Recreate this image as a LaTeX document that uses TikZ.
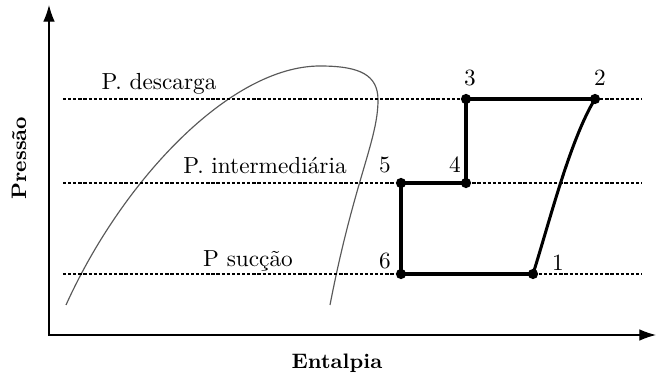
\documentclass[tikz,border=0pt]{standalone}
\usepackage{fontspec}
\usepackage{tikz}
\usetikzlibrary{arrows.meta}

\begin{document}
\begin{tikzpicture}[x=0.43pt,y=-0.43pt,
eixo/.style={{Latex[length=7.2pt,width=5pt]}-{Latex[length=7.2pt,width=5pt]},line width=0.5pt},
isobara/.style={dash pattern=on 1.4pt off 0.8pt,line width=0.95pt},
ponto/.style={circle,fill=black,inner sep=0pt,minimum size=4.4pt},
ciclo/.style={line width=1.3pt},
cupula/.style={draw=black!65,line width=0.5pt},
rotulo/.style={anchor=base,inner sep=0pt},
titulo/.style={font=\small\bfseries,inner sep=0pt}
]
\useasboundingbox (0,0) rectangle (657,377);

% eixos
\coordinate (topo) at (49,5);
\coordinate (origem) at (49,335);
\coordinate (fim) at (656,335);
\draw[eixo] (topo) -- (origem) -- (fim);
\node[titulo,rotate=90] (pressao) at (19,158) {Pressão};
\node[titulo] (entalpia) at (337,363) {Entalpia};

% curva de saturacao
\draw[cupula] (66,305) .. controls (122,181) and (230,66) .. (320,66)
  .. controls (360,66) and (378,75) .. (378,100)
  .. controls (378,140) and (354,181) .. (330,305);

% linhas de pressao
\coordinate (desc-i) at (63,99);   \coordinate (desc-f) at (642,99);
\coordinate (inter-i) at (63,183); \coordinate (inter-f) at (642,183);
\coordinate (suc-i) at (63,274);   \coordinate (suc-f) at (642,274);
\draw[isobara] (desc-i) -- (desc-f);
\draw[isobara] (inter-i) -- (inter-f);
\draw[isobara] (suc-i) -- (suc-f);
\node[rotulo] (ldesc) at (159,90) {P. descarga};
\node[rotulo] (linter) at (265,174) {P. intermediária};
\node[rotulo] (lsuc) at (248,267) {P sucção};

% pontos do ciclo
\node[ponto] (p1) at (533,274) {};
\node[ponto] (p2) at (595,99) {};
\node[ponto] (p3) at (466,99) {};
\node[ponto] (p4) at (466,183) {};
\node[ponto] (p5) at (401,183) {};
\node[ponto] (p6) at (401,274) {};

\draw[ciclo] (p1.center) -- (p6.center) -- (p5.center) -- (p4.center) -- (p3.center) -- (p2.center);
\draw[ciclo] (p1.center) .. controls (550,220) and (570,140) .. (p2.center);

\node[rotulo] (n1) at (558,271) {1};
\node[rotulo] (n2) at (600,86) {2};
\node[rotulo] (n3) at (470,86) {3};
\node[rotulo] (n4) at (455,173) {4};
\node[rotulo] (n5) at (385,173) {5};
\node[rotulo] (n6) at (385,269) {6};
\end{tikzpicture}
\end{document}
